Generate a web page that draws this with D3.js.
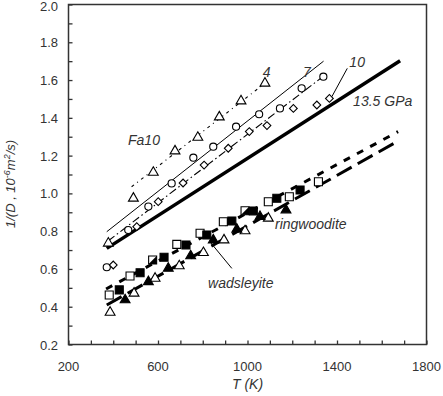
<!DOCTYPE html>
<html>
<head>
<meta charset="utf-8">
<script src="https://cdn.jsdelivr.net/npm/d3@7"></script>
<style>
  body { margin: 0; background: #fff; }
  svg text { font-family: "Liberation Sans", Arial, sans-serif; fill: #333; }
  .tick-label { font-size: 13px; }
  .lbl { font-size: 14px; font-style: italic; }
</style>
</head>
<body>
<div id="chart"></div>
<script>
'use strict';

// ─── Дані (T, K ; 1/D, 10^-6 m^2/s) ─────────────────────────────────────
const xTicksMajor = [200, 600, 1000, 1400, 1800];
const yTicksMajor = [0.2, 0.4, 0.6, 0.8, 1.0, 1.2, 1.4, 1.6, 1.8, 2.0];

// Fa10, верхня група
const tri4    = [[490, 0.974], [579, 1.111], [676, 1.224], [778, 1.296], [874, 1.404], [971, 1.489], [1078, 1.583]];
const circ7   = [[467, 0.806], [557, 0.930], [661, 1.053], [758, 1.189], [847, 1.247], [949, 1.353], [1052, 1.419], [1145, 1.450], [1242, 1.556], [1339, 1.618]];
const diam10  = [[505, 0.824], [601, 0.956], [712, 1.055], [806, 1.150], [914, 1.239], [1008, 1.327], [1087, 1.359], [1205, 1.450], [1310, 1.468], [1366, 1.503]];
const triLone = [[378, 0.736]];
const circLone = [[371, 0.609]];
const diamLone = [[400, 0.621]];

// wadsleyite / ringwoodite, нижня група
const sqOpen   = [[382, 0.462], [475, 0.563], [684, 0.730], [788, 0.789], [892, 0.850], [1093, 0.956], [1187, 0.982], [1317, 1.062]];
const sqHalf   = [[576, 0.647], [989, 0.908]];
const sqFilled = [[427, 0.489], [520, 0.580], [627, 0.662], [725, 0.727], [818, 0.780], [930, 0.854], [1026, 0.907], [1131, 0.974], [1235, 1.018]];
const triOpen  = [[386, 0.370], [493, 0.471], [587, 0.550], [695, 0.616], [803, 0.686], [895, 0.753], [989, 0.801], [1093, 0.868]];
const triFilled = [[453, 0.436], [557, 0.532], [646, 0.603], [746, 0.669], [847, 0.753], [952, 0.810], [1056, 0.877], [1172, 0.912]];

// лінії
const line4    = [[482, 1.035], [1078, 1.583]];
const line7    = [[371, 0.797], [1340, 1.700]];
const line10   = [[377, 0.748], [1339, 1.620]];
const line135  = [[371, 0.709], [1682, 1.702]];
const lineRing = [[368, 0.494], [1673, 1.327]];
const lineWads = [[371, 0.409], [1668, 1.274]];
const lead10   = [[1446, 1.662], [1377, 1.512]];
const leadWads = [[930, 0.603], [832, 0.744]];

// підписи
const labels = [
  { t: '4',        x: 1086, y: 1.644, a: 'middle' },
  { t: '7',        x: 1265, y: 1.644, a: 'middle' },
  { t: '10',       x: 1490, y: 1.695, a: 'middle' },
  { t: '13.5 GPa', x: 1472, y: 1.462, a: 'start' },
  { t: 'Fa10',     x: 466,  y: 1.257, a: 'start' },
  { t: 'ringwoodite', x: 1123, y: 0.811, a: 'start' },
  { t: 'wadsleyite',  x: 824,  y: 0.499, a: 'start' }
];

// ─── Побудова ─────────────────────────────────────────────────────────────
const W = 443, H = 396;
const svg = d3.select('#chart').append('svg').attr('width', W).attr('height', H);

const x = d3.scaleLinear().domain([200, 1800]).range([68.5, 426.5]);
const y = d3.scaleLinear().domain([0.2, 2.0]).range([344.5, 4.5]);

const line = d3.line().x(d => x(d[0])).y(d => y(d[1]));

// рамка
svg.append('rect')
  .attr('x', x(200)).attr('y', y(2.0))
  .attr('width', x(1800) - x(200)).attr('height', y(0.2) - y(2.0))
  .attr('fill', 'none').attr('stroke', '#333').attr('stroke-width', 1.5);

// осі (тики всередину)
const xAxis = svg.append('g').attr('transform', `translate(0,${y(0.2)})`)
  .call(d3.axisTop(x).tickValues(d3.range(200, 1801, 100)).tickSize(4).tickFormat(''));
const yAxis = svg.append('g').attr('transform', `translate(${x(200)},0)`)
  .call(d3.axisRight(y).tickValues(d3.range(2, 21).map(v => v / 10)).tickSize(4).tickFormat(''));
[xAxis, yAxis].forEach(a => {
  a.select('.domain').remove();
  a.selectAll('line').attr('stroke', '#333').attr('stroke-width', 1.3);
});

svg.selectAll('.xt').data(xTicksMajor).join('text')
  .attr('class', 'tick-label').attr('text-anchor', 'middle')
  .attr('x', d => x(d)).attr('y', 371).text(d => d);
svg.selectAll('.yt').data(yTicksMajor).join('text')
  .attr('class', 'tick-label').attr('text-anchor', 'end')
  .attr('x', 58).attr('y', d => Math.max(y(d) + 5, 11)).text(d => d.toFixed(1));

svg.append('text').attr('class', 'lbl').attr('text-anchor', 'middle')
  .attr('x', x(1000)).attr('y', 389).attr('font-size', 13).text('T  (K)');

const yl = svg.append('text').attr('class', 'lbl').attr('text-anchor', 'middle')
  .attr('transform', `translate(15,${y(1.05)}) rotate(-90)`).style('font-size', '13px');
yl.append('tspan').text('1/(D , 10');
yl.append('tspan').attr('dy', -5).style('font-size', '9px').text('-6');
yl.append('tspan').attr('dy', 5).text('m');
yl.append('tspan').attr('dy', -5).style('font-size', '9px').text('2');
yl.append('tspan').attr('dy', 5).text('/s)');

// лінії
const drawLine = (pts, w, dash) => svg.append('path').datum(pts)
  .attr('d', line).attr('fill', 'none').attr('stroke', '#000')
  .attr('stroke-width', w).attr('stroke-dasharray', dash || null);

drawLine(line135, 3.5);
drawLine(line7, 1);
drawLine(line4, 1.1, '3,4,1,4');
drawLine(line10, 1.1, '8,3,1.5,3');
drawLine(lineRing, 3, '7,8');
drawLine(lineWads, 3, '17,7');
drawLine(lead10, 1);
drawLine(leadWads, 1);

// маркери
const sym = {
  tri:  d3.symbol().type(d3.symbolTriangle).size(42)(),
  circ: d3.symbol().type(d3.symbolCircle).size(40)(),
  sq:   d3.symbol().type(d3.symbolSquare).size(64)(),
  diam: d3.symbol().type(d3.symbolSquare).size(30)()
};

function markers(data, shape, fill, rot) {
  svg.append('g').selectAll('path').data(data).join('path')
    .attr('transform', d => `translate(${x(d[0])},${y(d[1])})${rot ? ' rotate(45)' : ''}`)
    .attr('d', sym[shape])
    .attr('fill', fill).attr('stroke', '#000').attr('stroke-width', 1.1);
}

markers(tri4, 'tri', '#fff');
markers(circ7, 'circ', '#fff');
markers(diam10, 'diam', '#fff', true);
markers(triLone, 'tri', '#fff');
markers(circLone, 'circ', '#fff');
markers(diamLone, 'diam', '#fff', true);

markers(sqOpen, 'sq', '#fff');
markers(sqHalf, 'sq', '#fff');
svg.append('g').selectAll('path').data(sqHalf).join('path')
  .attr('transform', d => `translate(${x(d[0])},${y(d[1])})`)
  .attr('d', 'M-4,4L4,-4L4,4Z').attr('fill', '#000');
markers(sqFilled, 'sq', '#000');
markers(triOpen, 'tri', '#fff');
markers(triFilled, 'tri', '#000');

// підписи
svg.selectAll('.lab').data(labels).join('text')
  .attr('class', 'lbl').attr('text-anchor', d => d.a)
  .attr('x', d => x(d.x)).attr('y', d => y(d.y) + (d.a === 'middle' ? 5 : 0))
  .text(d => d.t);
</script>
</body>
</html>
